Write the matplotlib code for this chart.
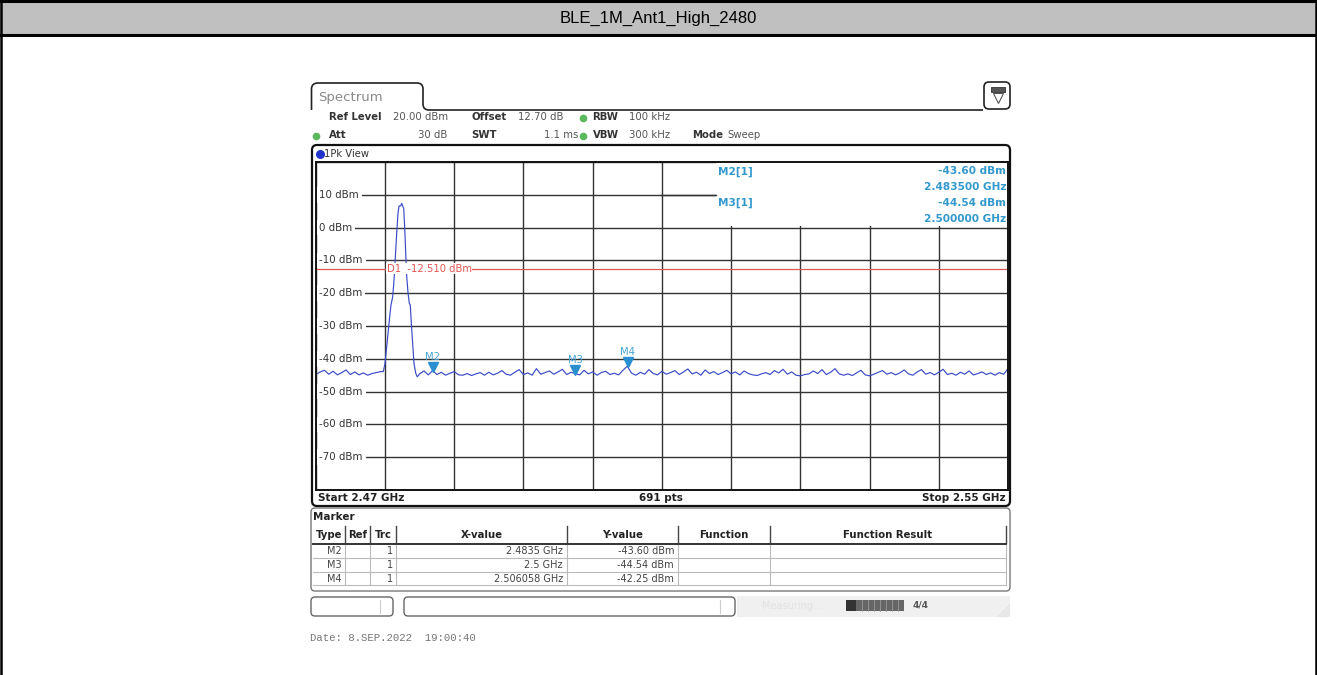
import numpy as np
import matplotlib
matplotlib.use("Agg")
import matplotlib.pyplot as plt
import matplotlib.patches as patches
from matplotlib.transforms import offset_copy

W, H = 1317, 675

title = "BLE_1M_Ant1_High_2480"

# sweep settings (from the instrument screen)
f_start, f_stop = 2.47, 2.55
ref_level = 20.0
y_bottom = -80.0
y_tick_levels = [10, 0, -10, -20, -30, -40, -50, -60, -70]
d1_level = -12.51

# trace: noise floor left of the carrier, read every 0.5 MHz from 2.4700 GHz
noise_left_dbm = [-44.8, -44.0, -43.5, -44.7, -43.8, -44.9, -44.2, -43.4,
                  -44.8, -44.0, -44.9, -44.3, -45.0, -44.5, -44.2, -43.9]

# carrier shape (GHz, dBm)
peak_ghz = [2.47780, 2.47800, 2.47819, 2.47838, 2.47858, 2.47869, 2.47889,
            2.47904, 2.47919, 2.47935, 2.47950, 2.47962, 2.47981, 2.47993,
            2.48004, 2.48016, 2.48027, 2.48039, 2.48051, 2.48066, 2.48081,
            2.48092, 2.48104, 2.48120, 2.48135, 2.48155, 2.48173]
peak_dbm = [-43.9, -41.4, -36.3, -31.2, -26.1, -23.6, -21.1,
            -16.0, -8.9, -1.7, 4.4, 6.6, 6.6, 7.4,
            6.6, 5.9, 0.3, -7.8, -15.0, -20.0, -23.1,
            -23.6, -29.2, -35.3, -41.4, -44.4, -45.5]

# noise floor right of the carrier, read every 0.5 MHz from 2.4820 GHz
noise_right_dbm = [
    -44.6, -43.7, -44.9, -43.6, -44.8, -44.1, -45.0, -44.4, -43.9, -44.9,
    -45.0, -44.5, -45.1, -44.6, -44.2, -45.0, -44.1, -44.9, -44.4, -43.6,
    -44.7, -45.0, -44.1, -43.3, -44.8, -44.3, -45.0, -43.0, -44.7, -44.2,
    -43.7, -44.7, -44.0, -43.2, -44.8, -44.1, -44.54, -44.9, -43.5, -44.6,
    -44.0, -45.0, -44.2, -43.8, -44.8, -44.4, -44.9, -43.5, -42.25, -44.4,
    -45.0, -44.1, -44.7, -43.3, -44.5, -44.9, -43.8, -44.7, -44.2, -43.6,
    -44.8, -44.0, -43.1, -44.6, -44.1, -45.0, -43.4, -44.5, -43.9, -44.8,
    -44.2, -43.5, -44.6, -44.0, -44.9, -43.7, -44.5, -44.9, -45.1, -44.6,
    -44.2, -44.8, -43.6, -44.3, -43.2, -44.7, -44.0, -45.0, -45.2, -44.8,
    -44.6, -43.7, -44.5, -43.3, -44.8, -44.1, -43.0, -44.6, -45.0, -44.6,
    -45.1, -44.3, -43.5, -44.9, -45.2, -44.7, -44.1, -43.6, -44.7, -44.2,
    -44.9, -44.3, -43.4, -44.6, -45.0, -44.0, -43.3, -44.7, -44.2, -44.9,
    -44.1, -43.2, -44.8, -44.4, -45.0, -44.1, -44.7, -43.7, -44.9, -44.5,
    -44.0, -44.8, -44.3, -45.0, -44.2, -44.7, -43.0]
step_ghz = 0.0005

# markers
marker_names = ["M2", "M3", "M4"]
marker_ghz = [2.4835, 2.5, 2.506058]
marker_dbm = [-43.60, -44.54, -42.25]
marker_trc = [1, 1, 1]
marker_x_text = ["2.4835 GHz", "2.5 GHz", "2.506058 GHz"]

# ---------------------------------------------------------------- figure
fig = plt.figure(figsize=(W / 100, H / 100), dpi=100)
bg = fig.add_axes([0, 0, 1, 1])
bg.set_xlim(0, W)
bg.set_ylim(H, 0)
bg.axis("off")

# report table frame
bg.add_patch(patches.Rectangle((0, 1), W, 34, facecolor="#c0c0c0", edgecolor="none"))
bg.plot([0, W], [1, 1], color="black", lw=2.2)
bg.plot([0, W], [35, 35], color="black", lw=2.2)
bg.plot([1, 1], [0, H], color="black", lw=1.8)
bg.plot([W - 1.5, W - 1.5], [0, H], color="black", lw=1.8)
bg.text(W / 2, 18.5, title, ha="center", va="center", fontsize=12,
        family="Liberation Sans", color="black")

# tab "Spectrum"
tab = patches.Path(
    [(311.5, 110), (311.5, 89), (311.5, 83), (318, 83), (417, 83), (423, 83),
     (423, 89), (423, 104), (423, 110), (429, 110), (983, 110)],
    [1, 2, 3, 3, 2, 3, 3, 2, 3, 3, 2])
bg.add_patch(patches.PathPatch(tab, facecolor="none", edgecolor="#222", lw=1.2))
bg.text(318, 97, "Spectrum", fontsize=9.5, color="#8a8a8a", va="center")
bg.add_patch(patches.FancyBboxPatch((984, 82), 26, 27, boxstyle="round,pad=0,rounding_size=5",
                                    facecolor="white", edgecolor="#222", lw=1.2))
bg.add_patch(patches.Rectangle((990.5, 87), 14, 5, facecolor="#555", edgecolor="#333", lw=0.6))
bg.plot([997.5], [98], marker="v", markersize=7, markerfacecolor="white",
        markeredgecolor="#555", markeredgewidth=0.8)

# setting rows
lab = dict(fontsize=7.3, fontweight="bold", color="#333", va="center")
val = dict(fontsize=7.3, color="#555", va="center")
green = "#5cb85c"
r1, r2 = 117.5, 135.5
bg.text(329, r1, "Ref Level", **lab)
bg.text(393, r1, "20.00 dBm", **val)
bg.text(471.5, r1, "Offset", **lab)
bg.text(518, r1, "12.70 dB", **val)
bg.plot([583], [r1], "o", color=green, markersize=4.5)
bg.text(592.5, r1, "RBW", **lab)
bg.text(629, r1, "100 kHz", **val)
bg.plot([315.5], [r2], "o", color=green, markersize=4.5)
bg.text(329, r2, "Att", **lab)
bg.text(447, r2, "30 dB", ha="right", **val)
bg.text(471.5, r2, "SWT", **lab)
bg.text(578, r2, "1.1 ms", ha="right", **val)
bg.plot([583], [r2], "o", color=green, markersize=4.5)
bg.text(592.5, r2, "VBW", **lab)
bg.text(629, r2, "300 kHz", **val)
bg.text(692, r2, "Mode", **lab)
bg.text(727, r2, "Sweep", **val)

# diagram frame
bg.add_patch(patches.FancyBboxPatch((312, 145), 698, 361, boxstyle="round,pad=0,rounding_size=5",
                                    facecolor="white", edgecolor="#111", lw=1.6))
bg.plot([319.5], [154], "o", color="#2233cc", markersize=5.5)
bg.text(324, 154, "1Pk View", fontsize=7.2, color="#333", va="center")
bg.text(318, 498, "Start 2.47 GHz", fontsize=7.5, fontweight="bold", color="#222", va="center")
bg.text(661, 498, "691 pts", fontsize=7.5, fontweight="bold", color="#222", va="center", ha="center")
bg.text(1006, 498, "Stop 2.55 GHz", fontsize=7.5, fontweight="bold", color="#222", va="center", ha="right")

# marker table
bg.add_patch(patches.FancyBboxPatch((311, 508), 699, 83, boxstyle="round,pad=0,rounding_size=4",
                                    facecolor="white", edgecolor="#777", lw=1.0))
bg.text(313, 516.5, "Marker", fontsize=7.5, color="#222", va="center", fontweight="bold")
col_edges = [313, 345, 370, 396, 567, 678, 770, 1006]
headers = ["Type", "Ref", "Trc", "X-value", "Y-value", "Function", "Function Result"]
hy = 534.5
for i, h in enumerate(headers):
    bg.text((col_edges[i] + col_edges[i + 1]) / 2, hy, h, fontsize=7.3, fontweight="bold",
            color="#222", ha="center", va="center")
for xe in col_edges[1:]:
    bg.plot([xe, xe], [526, 543], color="#444", lw=1.0)
bg.plot([313, 1006], [543.5, 543.5], color="#333", lw=1.4)
row_y = [551.5, 565, 578.5]
for i in range(len(marker_names)):
    y = row_y[i]
    bg.text(col_edges[1] - 3, y, marker_names[i], fontsize=7, color="#444", ha="right", va="center")
    bg.text(col_edges[3] - 3, y, str(marker_trc[i]), fontsize=7, color="#444", ha="right", va="center")
    bg.text(col_edges[4] - 4, y, marker_x_text[i], fontsize=7, color="#444", ha="right", va="center")
    bg.text(col_edges[5] - 4, y, f"{marker_dbm[i]:.2f} dBm", fontsize=7, color="#444",
            ha="right", va="center")
    bg.plot([313, 1006], [y + 6.8, y + 6.8], color="#bbb", lw=0.8)
    for xe in col_edges[1:]:
        bg.plot([xe, xe], [y - 6.8, y + 6.8], color="#bbb", lw=0.8)

# status bar
bg.add_patch(patches.FancyBboxPatch((311, 597), 82, 19, boxstyle="round,pad=0,rounding_size=4",
                                    facecolor="white", edgecolor="#666", lw=1.0))
bg.plot([380, 380], [600, 613], color="#ccc", lw=0.8)
bg.add_patch(patches.FancyBboxPatch((404, 597), 331, 19, boxstyle="round,pad=0,rounding_size=4",
                                    facecolor="white", edgecolor="#666", lw=1.0))
bg.plot([720, 720], [600, 613], color="#ccc", lw=0.8)
bg.add_patch(patches.Rectangle((737, 596), 273, 21, facecolor="#f0f0f0", edgecolor="none"))
bg.text(762, 606, "Measuring...", fontsize=7, color="#e2e2e2", va="center")
bg.add_patch(patches.Rectangle((846, 600), 58, 11, facecolor="#666", edgecolor="none"))
bg.add_patch(patches.Rectangle((846, 600), 10, 11, facecolor="#333", edgecolor="none"))
for k in range(7):
    bg.plot([862 + 6 * k, 862 + 6 * k], [600, 611], color="#999", lw=0.6)
bg.text(913, 605.5, "4/4", fontsize=6.5, color="#555", va="center", fontweight="bold")
for k in range(4):
    bg.plot([998 + 3 * k, 1010], [617, 605 + 3 * k], color="#ddd", lw=0.6)

bg.text(310, 638, "Date: 8.SEP.2022  19:00:40", fontsize=7.7, color="#777",
        family="Liberation Mono", va="center")

# ---------------------------------------------------------------- diagram
x0, x1 = 315.8, 1008.0
y0, y1 = 162.0, 490.0
ax = fig.add_axes([x0 / W, 1 - y1 / H, (x1 - x0) / W, (y1 - y0) / H])
ax.set_xlim(f_start, f_stop)
ax.set_ylim(y_bottom, ref_level)
ax.set_xticks(np.linspace(f_start, f_stop, 11))
ax.set_yticks(np.arange(y_bottom, ref_level + 1, 10))
ax.tick_params(length=0, labelbottom=False, labelleft=False)
ax.grid(True, color="#333", lw=1.0)
ax.set_axisbelow(True)
for s in ax.spines.values():
    s.set_color("#111")
    s.set_linewidth(1.4)
    s.set_zorder(8)

freq_left = f_start + step_ghz * np.arange(len(noise_left_dbm))
freq_right = 2.482 + step_ghz * np.arange(len(noise_right_dbm))
freq = np.concatenate([freq_left, peak_ghz, freq_right])
level = np.concatenate([noise_left_dbm, peak_dbm, noise_right_dbm])
ax.plot(freq, level, color="#3a4bc8", lw=0.85, zorder=3)

# white panel behind marker readout
ax.add_patch(patches.Rectangle((0.578, 0.805), 0.422, 0.195, transform=ax.transAxes,
                               facecolor="white", edgecolor="none", zorder=2))

# y labels inside the diagram
for lv in y_tick_levels:
    ax.text(f_start + 0.00040, lv, f"{lv} dBm", fontsize=7.4, color="#333", va="center",
            ha="left", zorder=4, bbox=dict(facecolor="white", edgecolor="none", pad=2.0))

# display line
red = "#e05555"
ax.axhline(d1_level, color=red, lw=0.9, zorder=3)
ax.text(2.47818, d1_level, "D1  -12.510 dBm", fontsize=7.2, color=red, va="center",
        ha="left", zorder=4, bbox=dict(facecolor="white", edgecolor="none", pad=0.4))

# markers
mcol = "#2a8fd0"
tri_tf = offset_copy(ax.transData, fig=fig, y=3.8, units="dots")
lab_tf = offset_copy(ax.transData, fig=fig, y=14.0, units="dots")
for i in range(len(marker_names)):
    ax.plot([marker_ghz[i]], [marker_dbm[i]], marker="v", markersize=6.5, color=mcol,
            transform=tri_tf, zorder=5, linestyle="none")
    ax.text(marker_ghz[i], marker_dbm[i], marker_names[i], transform=lab_tf, fontsize=7.2,
            color="#45a5d5", ha="center", va="center", zorder=5)

# marker readout (top right)
rcol = "#3399cc"
rd = dict(fontsize=7.6, color=rcol, fontweight="bold", va="center", zorder=5)
for i, (yy, name) in enumerate([(171.5, "M2[1]"), (203, "M3[1]")]):
    fy = 1 - (yy - y0) / (y1 - y0)
    fy2 = 1 - (yy + 16 - y0) / (y1 - y0)
    ax.text((718 - x0) / (x1 - x0), fy, name, transform=ax.transAxes, ha="left", **rd)
    ax.text((1006 - x0) / (x1 - x0), fy, f"{marker_dbm[i]:.2f} dBm", transform=ax.transAxes,
            ha="right", **rd)
    ax.text((1006 - x0) / (x1 - x0), fy2, f"{marker_ghz[i]:.6f} GHz", transform=ax.transAxes,
            ha="right", **rd)
ax.plot([(661 - x0) / (x1 - x0), (716 - x0) / (x1 - x0)],
        [1 - (195 - y0) / (y1 - y0)] * 2, transform=ax.transAxes, color="#333", lw=1.0, zorder=3)

fig.savefig("out.png", dpi=100)
